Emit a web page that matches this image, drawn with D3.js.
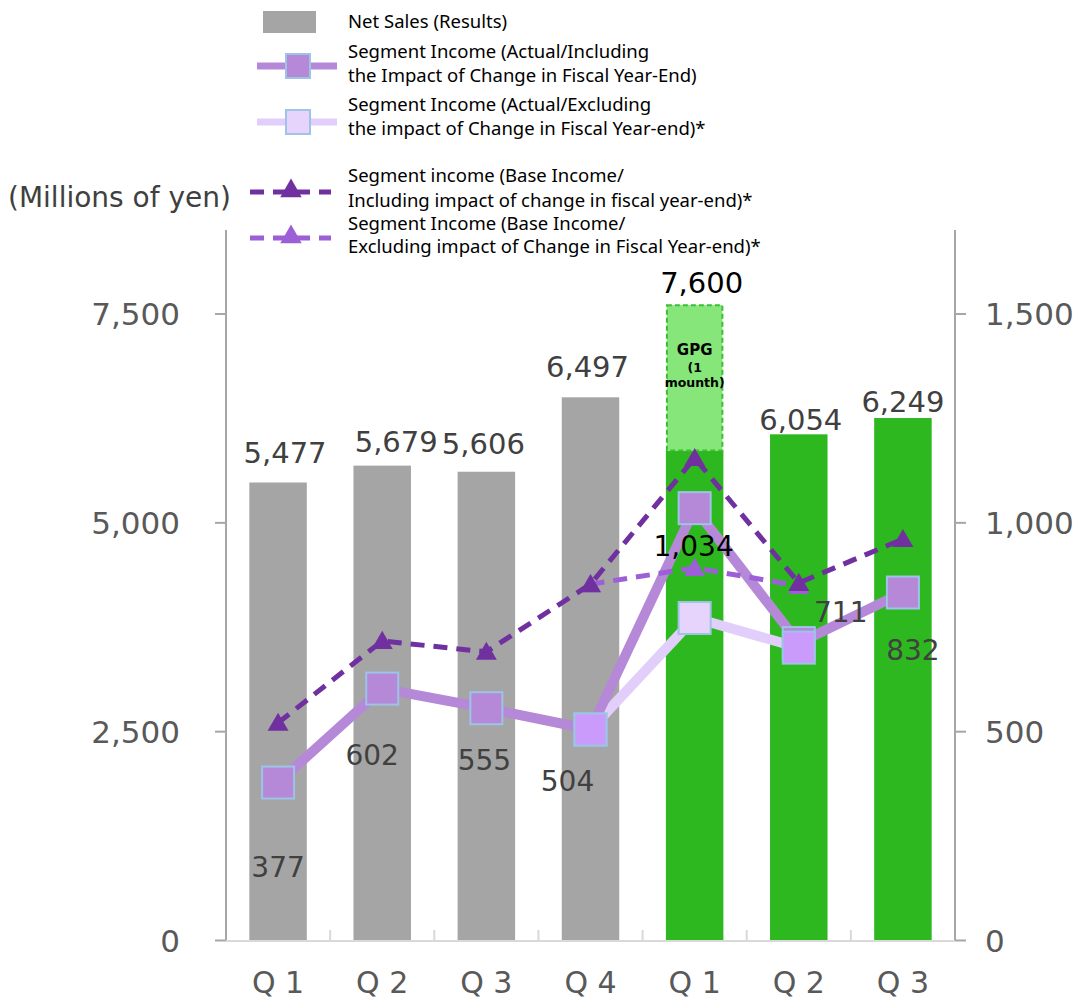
<!DOCTYPE html>
<html>
<head>
<meta charset="utf-8">
<script src="https://cdn.jsdelivr.net/npm/d3@7"></script>
<style>
  body { margin: 0; background: #fff; }
  svg { display: block; }
</style>
</head>
<body>
<div id="chart"></div>
<script>
// chart data
const categories = ["Q 1", "Q 2", "Q 3", "Q 4", "Q 1", "Q 2", "Q 3"];
const periodGroup = ["prev", "prev", "prev", "prev", "cur", "cur", "cur"];
const netSales = [5477, 5679, 5606, 6497, 5860, 6054, 6249];
const gpgSales = [0, 0, 0, 0, 1740, 0, 0];
const salesLabels = [5477, 5679, 5606, 6497, 7600, 6054, 6249];
const incomeActualIncl = [377, 602, 555, 504, 1034, 711, 832];
const incomeActualExcl = [null, null, null, 504, 771, 700, null];
const incomeBaseIncl = [520, 716, 690, 852, 1154, 855, 960];
const incomeBaseExcl = [null, null, null, 852, 891, 848, null];
const leftTicks = [0, 2500, 5000, 7500];
const rightTicks = [0, 500, 1000, 1500];
const gpgText = ["GPG", "(1", "mounth)"];

// layout nudges for the hand placed labels (px)
const salesLabelNudge = [[7, -20], [14, -14], [-3, -18], [-3, -20], [7, -12], [2, -4], [0, -6]];
const incomeLabelNudge = [[0, 94], [-10, 76], [-2, 62], [-23, 61], [-1, 48], [42, -21], [10, 67]];

const width = 1083, height = 999;
const plot = { left: 226, right: 955, top: 230, bottom: 940 };
const colors = {
    prev: "#a5a5a5", cur: "#2db81f", gpg: "#86e67a", gpgStroke: "#3cbf30",
    actualIncl: "#b589d8", actualExcl: "#e2cefb", excMarker: "#e6d4fd", overlap: "#cb9bfb",
    markerStroke: "#9dc3e6", baseIncl: "#7030a0", baseExcl: "#9d5fd6",
    axis: "#a6a6a6", baseline: "#d9d9d9", text: "#404040", tick: "#595959"
};

const svg = d3.select("#chart").append("svg")
    .attr("width", width)
    .attr("height", height);

const x = d3.scaleBand()
    .domain(d3.range(categories.length))
    .range([plot.left, plot.right])
    .paddingInner(0.448)
    .paddingOuter(0.224);

const ySales = d3.scaleLinear().domain([0, 8500]).range([plot.bottom, plot.top]);
const yIncome = d3.scaleLinear().domain([0, 1700]).range([plot.bottom, plot.top]);
const cx = i => x(i) + x.bandwidth() / 2;
const fmt = d3.format(",");

// bars
svg.selectAll("rect.sales")
    .data(netSales)
    .join("rect")
    .attr("class", "sales")
    .attr("x", (d, i) => x(i))
    .attr("y", d => ySales(d))
    .attr("width", x.bandwidth())
    .attr("height", d => ySales(0) - ySales(d))
    .attr("fill", (d, i) => colors[periodGroup[i]]);

// GPG one month stacked on top
gpgSales.forEach((g, i) => {
    if (!g) return;
    const y0 = ySales(netSales[i]), y1 = ySales(netSales[i] + g);
    svg.append("rect")
        .attr("x", x(i) + 1)
        .attr("y", y1)
        .attr("width", x.bandwidth() - 2)
        .attr("height", y0 - y1)
        .attr("fill", colors.gpg)
        .attr("stroke", colors.gpgStroke)
        .attr("stroke-width", 2)
        .attr("stroke-dasharray", "5,3");
    const t = svg.append("text")
        .attr("x", cx(i))
        .attr("y", y1 + 50)
        .attr("text-anchor", "middle")
        .attr("font-family", "DejaVu Sans, Verdana, sans-serif")
        .attr("font-weight", "bold")
        .attr("fill", "#000");
    gpgText.forEach((s, k) => {
        t.append("tspan")
            .attr("x", cx(i))
            .attr("dy", k === 0 ? 0 : (k === 1 ? 17 : 15))
            .attr("font-size", k === 0 ? 15 : 12.5)
            .text(s);
    });
});

// axes
const leftAxis = svg.append("g")
    .attr("transform", `translate(${plot.left},0)`)
    .call(d3.axisLeft(ySales).tickValues(leftTicks).tickFormat(fmt).tickSize(11).tickPadding(35));
const rightAxis = svg.append("g")
    .attr("transform", `translate(${plot.right},0)`)
    .call(d3.axisRight(yIncome).tickValues(rightTicks).tickFormat(fmt).tickSize(11).tickPadding(19));

[leftAxis, rightAxis].forEach(g => {
    g.select(".domain").attr("stroke", colors.axis).attr("stroke-width", 2)
        .attr("d", `M0,${plot.top}V${plot.bottom}`);
    g.selectAll(".tick line").attr("stroke", colors.axis).attr("stroke-width", 2);
    g.selectAll(".tick text")
        .attr("fill", colors.tick)
        .attr("font-family", "DejaVu Sans, Verdana, sans-serif")
        .attr("font-size", 31)
        .attr("dy", "0.36em");
});

// bottom axis
const bottom = svg.append("g");
bottom.append("line")
    .attr("x1", plot.left).attr("x2", plot.right)
    .attr("y1", plot.bottom + 1).attr("y2", plot.bottom + 1)
    .attr("stroke", colors.baseline).attr("stroke-width", 2);
bottom.selectAll("line.sep")
    .data(d3.range(1, categories.length))
    .join("line")
    .attr("class", "sep")
    .attr("x1", i => x(i) - x.step() * x.paddingInner() / 2)
    .attr("x2", i => x(i) - x.step() * x.paddingInner() / 2)
    .attr("y1", plot.bottom - 10).attr("y2", plot.bottom + 1)
    .attr("stroke", colors.baseline).attr("stroke-width", 2);
bottom.selectAll("text.cat")
    .data(categories)
    .join("text")
    .attr("class", "cat")
    .attr("x", (d, i) => cx(i))
    .attr("y", 993)
    .attr("text-anchor", "middle")
    .attr("font-family", "DejaVu Sans, Verdana, sans-serif")
    .attr("font-size", 30)
    .attr("fill", colors.tick)
    .text(d => d);

// unit label
svg.append("text")
    .attr("x", 8).attr("y", 207)
    .attr("font-family", "DejaVu Sans, Verdana, sans-serif")
    .attr("font-size", 28)
    .attr("fill", colors.text)
    .text("(Millions of yen)");

// lines
const lineGen = d3.line()
    .defined(d => d != null)
    .x((d, i) => cx(i))
    .y(d => yIncome(d));

svg.append("path")
    .datum(incomeActualExcl)
    .attr("d", lineGen)
    .attr("fill", "none")
    .attr("stroke", colors.actualExcl)
    .attr("stroke-width", 10);

svg.append("path")
    .datum(incomeActualIncl)
    .attr("d", lineGen)
    .attr("fill", "none")
    .attr("stroke", colors.actualIncl)
    .attr("stroke-width", 10);

const sq = 32;
svg.selectAll("rect.incl")
    .data(incomeActualIncl)
    .join("rect")
    .attr("class", "incl")
    .attr("x", (d, i) => cx(i) - sq / 2)
    .attr("y", d => yIncome(d) - sq / 2)
    .attr("width", sq).attr("height", sq)
    .attr("fill", colors.actualIncl)
    .attr("stroke", colors.markerStroke)
    .attr("stroke-width", 2);

svg.selectAll("rect.excl")
    .data(incomeActualExcl.map((d, i) => ({ d, i })).filter(p => p.d != null))
    .join("rect")
    .attr("class", "excl")
    .attr("x", p => cx(p.i) - sq / 2)
    .attr("y", p => yIncome(p.d) - sq / 2)
    .attr("width", sq).attr("height", sq)
    .attr("fill", p => Math.abs(p.d - incomeActualIncl[p.i]) < 20 ? colors.overlap : colors.excMarker)
    .attr("stroke", colors.markerStroke)
    .attr("stroke-width", 2);

const tri = d3.symbol().type(d3.symbolTriangle).size(190);

function drawBase(values, color) {
    svg.append("path")
        .datum(values)
        .attr("d", lineGen)
        .attr("fill", "none")
        .attr("stroke", color)
        .attr("stroke-width", 5)
        .attr("stroke-dasharray", "14,9");
    svg.selectAll(null)
        .data(values.map((d, i) => ({ d, i })).filter(p => p.d != null))
        .join("path")
        .attr("d", tri)
        .attr("transform", p => `translate(${cx(p.i)},${yIncome(p.d) + 2})`)
        .attr("fill", color);
}
drawBase(incomeBaseExcl, colors.baseExcl);
drawBase(incomeBaseIncl, colors.baseIncl);

// value labels
svg.selectAll("text.sales")
    .data(salesLabels)
    .join("text")
    .attr("class", "sales")
    .attr("x", (d, i) => cx(i) + salesLabelNudge[i][0])
    .attr("y", (d, i) => ySales(d) + salesLabelNudge[i][1])
    .attr("text-anchor", "middle")
    .attr("font-family", "DejaVu Sans, Verdana, sans-serif")
    .attr("font-size", 29)
    .attr("fill", (d, i) => gpgSales[i] ? "#000" : colors.text)
    .text(d => fmt(d));

svg.selectAll("text.income")
    .data(incomeActualIncl)
    .join("text")
    .attr("class", "income")
    .attr("x", (d, i) => cx(i) + incomeLabelNudge[i][0])
    .attr("y", (d, i) => yIncome(d) + incomeLabelNudge[i][1])
    .attr("text-anchor", "middle")
    .attr("font-family", "DejaVu Sans, Verdana, sans-serif")
    .attr("font-size", 28)
    .attr("fill", (d, i) => d >= 1000 ? "#000" : colors.text)
    .text(d => fmt(d));

// legend
const legendItems = [
    { kind: "bar", lines: ["Net Sales (Results)"], y: 22 },
    { kind: "actualIncl", lines: ["Segment Income (Actual/Including", "the Impact of Change in Fiscal Year-End)"], y: 66 },
    { kind: "actualExcl", lines: ["Segment Income (Actual/Excluding", "the impact of Change in Fiscal Year-end)*"], y: 122 },
    { kind: "baseIncl", lines: ["Segment income (Base Income/", "Including impact of change in fiscal year-end)*"], y: 192 },
    { kind: "baseExcl", lines: ["Segment Income (Base Income/", "Excluding impact of Change in Fiscal Year-end)*"], y: 238 }
];
const legendTextTop = [28, 58, 111, 182, 230];
const legendLineGap = [0, 24, 24, 25, 23];
const legend = svg.append("g");

legendItems.forEach((item, k) => {
    const g = legend.append("g");
    const ly = item.y;
    if (item.kind === "bar") {
        g.append("rect").attr("x", 263).attr("y", ly - 11).attr("width", 53).attr("height", 22)
            .attr("fill", colors.prev);
    } else if (item.kind === "actualIncl" || item.kind === "actualExcl") {
        g.append("line").attr("x1", 257).attr("x2", 337).attr("y1", ly).attr("y2", ly)
            .attr("stroke", colors[item.kind]).attr("stroke-width", 7);
        g.append("rect").attr("x", 286).attr("y", ly - 12).attr("width", 24).attr("height", 24)
            .attr("fill", item.kind === "actualIncl" ? colors.actualIncl : colors.excMarker)
            .attr("stroke", colors.markerStroke).attr("stroke-width", 2);
    } else {
        const c = item.kind === "baseIncl" ? colors.baseIncl : colors.baseExcl;
        g.append("line").attr("x1", 250).attr("x2", 331).attr("y1", ly).attr("y2", ly)
            .attr("stroke", c).attr("stroke-width", 5).attr("stroke-dasharray", "14,9");
        g.append("path").attr("d", d3.symbol().type(d3.symbolTriangle).size(200))
            .attr("transform", `translate(291,${ly - 1})`).attr("fill", c);
    }
    const t = g.append("text")
        .attr("font-family", "Noto Sans, Open Sans, sans-serif")
        .attr("font-size", 18.5)
        .attr("fill", "#000");
    item.lines.forEach((s, j) => {
        t.append("tspan").attr("x", 348).attr("y", legendTextTop[k] + j * legendLineGap[k]).text(s);
    });
});
</script>
</body>
</html>
